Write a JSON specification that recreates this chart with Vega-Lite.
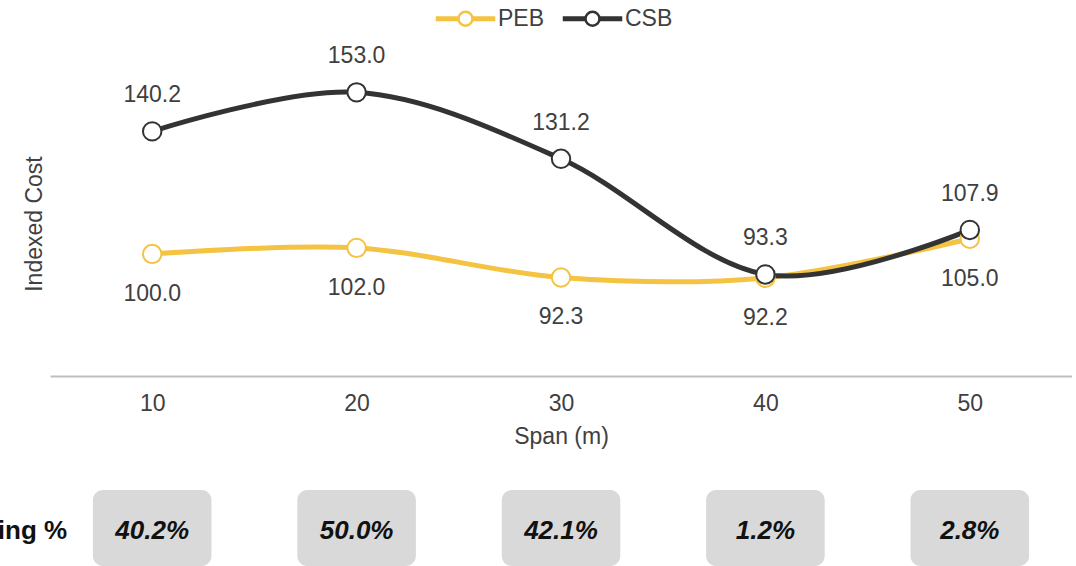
{
  "$schema": "https://vega.github.io/schema/vega-lite/v6.json",
  "padding": {"left": -49, "top": 3, "right": 0, "bottom": 0},
  "background": "white",
  "config": {
    "font": "Liberation Sans",
    "view": {"stroke": null},
    "axis": {"grid": false},
    "legend": {"layout": {"top": {"anchor": "middle"}}}
  },
  "bounds": "flush",
  "spacing": 114,
  "vconcat": [
    {
      "width": 1022,
      "height": 305,
      "data": {
        "values": [
          {"span": 10, "series": "PEB", "cost": 100.0},
          {"span": 20, "series": "PEB", "cost": 102.0},
          {"span": 30, "series": "PEB", "cost": 92.3},
          {"span": 40, "series": "PEB", "cost": 92.2},
          {"span": 50, "series": "PEB", "cost": 105.0},
          {"span": 10, "series": "CSB", "cost": 140.2},
          {"span": 20, "series": "CSB", "cost": 153.0},
          {"span": 30, "series": "CSB", "cost": 131.2},
          {"span": 40, "series": "CSB", "cost": 93.3},
          {"span": 50, "series": "CSB", "cost": 107.9}
        ]
      },
      "encoding": {
        "x": {
          "field": "span",
          "type": "ordinal",
          "title": "Span (m)",
          "axis": {
            "labelAngle": 0,
            "ticks": false,
            "domainColor": "#BFBFBF",
            "domainWidth": 2,
            "labelFontSize": 23,
            "labelColor": "#404040",
            "labelPadding": 16,
            "titleFontSize": 23,
            "titleFontWeight": "normal",
            "titleColor": "#404040",
            "titlePadding": 10
          }
        },
        "y": {
          "field": "cost",
          "type": "quantitative",
          "scale": {"domain": [60, 160], "nice": false, "zero": false},
          "title": "Indexed Cost",
          "axis": {
            "domain": false,
            "ticks": false,
            "labels": false,
            "grid": false,
            "titleFontSize": 23,
            "titleFontWeight": "normal",
            "titleColor": "#404040",
            "titlePadding": 4
          }
        },
        "color": {
          "field": "series",
          "type": "nominal",
          "scale": {"domain": ["PEB", "CSB"], "range": ["#F5C342", "#333333"]},
          "legend": {
            "orient": "top",
            "direction": "horizontal",
            "title": null,
            "offset": 14,
            "labelFontSize": 23,
            "labelColor": "#404040",
            "symbolType": "M-2,-0.08 L-0.5,-0.08 L-0.5,0.08 L-2,0.08 Z M0.5,-0.08 L2,-0.08 L2,0.08 L0.5,0.08 Z M0.49,0 A0.49,0.49 0 1,1 -0.49,0 A0.49,0.49 0 1,1 0.49,0 Z",
            "symbolSize": 812,
            "symbolFillColor": "white",
            "symbolStrokeWidth": 2.5,
            "labelOffset": 17,
            "columnPadding": 14
          }
        }
      },
      "layer": [
        {"mark": {"type": "line", "interpolate": "cardinal", "strokeWidth": 5}},
        {
          "mark": {"type": "point", "filled": true, "fill": "white", "size": 340, "strokeWidth": 2, "opacity": 1},
          "encoding": {
            "color": {"value": "white"},
            "stroke": {
              "field": "series",
              "type": "nominal",
              "scale": {"domain": ["PEB", "CSB"], "range": ["#F5C342", "#333333"]},
              "legend": null
            }
          }
        },
        {
          "transform": [{"filter": "datum.series === 'CSB'"}],
          "mark": {"type": "text", "dy": -36, "fontSize": 23},
          "encoding": {
            "text": {"field": "cost", "type": "quantitative", "format": ".1f"},
            "color": {"value": "#404040"}
          }
        },
        {
          "transform": [{"filter": "datum.series === 'PEB'"}],
          "mark": {"type": "text", "dy": 40, "fontSize": 23},
          "encoding": {
            "text": {"field": "cost", "type": "quantitative", "format": ".1f"},
            "color": {"value": "#404040"}
          }
        }
      ]
    },
    {
      "width": 1022,
      "height": 76,
      "data": {
        "values": [
          {"span": 10, "saving": "40.2%"},
          {"span": 20, "saving": "50.0%"},
          {"span": 30, "saving": "42.1%"},
          {"span": 40, "saving": "1.2%"},
          {"span": 50, "saving": "2.8%"}
        ]
      },
      "encoding": {
        "x": {
          "field": "span",
          "type": "ordinal",
          "scale": {"paddingInner": 0.42, "paddingOuter": 0.21},
          "axis": null
        }
      },
      "layer": [
        {"mark": {"type": "bar", "color": "#D9D9D9", "cornerRadius": 10}},
        {
          "mark": {"type": "text", "fontSize": 26, "fontWeight": "bold", "fontStyle": "italic", "color": "#111111", "dy": 3},
          "encoding": {"text": {"field": "saving"}}
        },
        {
          "data": {"values": [{"label": "Saving %"}]},
          "mark": {"type": "text", "fontSize": 26, "fontWeight": "bold", "align": "right", "dx": -85, "dy": 3, "color": "#111111"},
          "encoding": {
            "x": {"datum": 10, "type": "ordinal"},
            "text": {"field": "label"}
          }
        }
      ]
    }
  ]
}
